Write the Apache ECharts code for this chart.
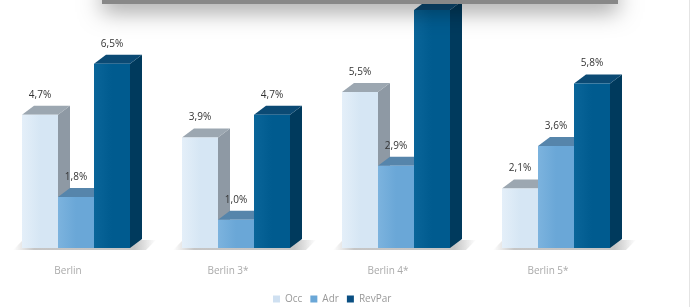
<!DOCTYPE html>
<html>
<head>
<meta charset="utf-8">
<script src="https://cdn.jsdelivr.net/npm/echarts@6/dist/echarts.min.js"></script>
<style>
  html, body { margin: 0; padding: 0; background: #fff; }
  #chart { width: 696px; height: 307px; }
</style>
</head>
<body>
<div id="chart"></div>
<script>
// data
const categories = ['Berlin', 'Berlin 3*', 'Berlin 4*', 'Berlin 5*']
const occ = [4.7, 3.9, 5.5, 2.1]
const adr = [1.8, 1.0, 2.9, 3.6]
const revPar = [6.5, 4.7, 8.4, 5.8]

// front, top, side colours per series
const faces = [
  { front: '#d6e6f4', light: '#e4eff9', top: '#9ca7b1', side: '#8e99a4' },
  { front: '#6aa7d7', light: '#7cb3de', top: '#5685ab', side: '#4b7899' },
  { front: '#005b8f', light: '#0a6599', top: '#0b4a74', side: '#003a5d' },
]
const BW = 36   // bar width
const DX = 12   // depth x
const DY = 9    // depth y
const offsets = [-58, -22, 14]

function fmt(v) {
  return v.toFixed(1).replace('.', ',') + '%'
}

function renderItem(params, api) {
  const s = params.seriesIndex
  const c = faces[s]
  const cat = api.value(0)
  const val = api.value(1)
  const base = api.coord([cat, 0])
  const top = api.coord([cat, val])
  const x0 = base[0] + offsets[s]
  const x1 = x0 + BW
  const yb = base[1]
  const yt = top[1]
  const children = []
  if (s === 0) {
    // floor shadow under the group
    const cx = base[0] - 4
    children.push({
      type: 'polygon',
      z2: 0,
      shape: { points: [[cx - 63, yb + 2], [cx + 70, yb + 2], [cx + 80, yb - 8], [cx - 53, yb - 8]] },
      style: {
        fill: new echarts.graphic.LinearGradient(0, 0, 1, 0, [
          { offset: 0, color: 'rgba(150,150,150,0)' },
          { offset: 0.15, color: 'rgba(150,150,150,0.55)' },
          { offset: 0.85, color: 'rgba(150,150,150,0.55)' },
          { offset: 1, color: 'rgba(150,150,150,0)' },
        ]),
      },
    })
  }
  // side face
  children.push({
    type: 'polygon',
    z2: 1,
    shape: { points: [[x1, yt], [x1 + DX, yt - DY], [x1 + DX, yb - DY], [x1, yb]] },
    style: { fill: c.side },
  })
  // top face
  children.push({
    type: 'polygon',
    z2: 1,
    shape: { points: [[x0, yt], [x0 + DX, yt - DY], [x1 + DX, yt - DY], [x1, yt]] },
    style: { fill: c.top },
  })
  // front face
  children.push({
    type: 'rect',
    z2: 2,
    shape: { x: x0, y: yt, width: BW, height: yb - yt },
    style: {
      fill: new echarts.graphic.LinearGradient(0, 0, 1, 0, [
        { offset: 0, color: c.light },
        { offset: 0.5, color: c.front },
        { offset: 1, color: c.front },
      ]),
    },
  })
  // value label
  children.push({
    type: 'text',
    z2: 3,
    style: {
      text: fmt(val),
      x: x0 + BW / 2,
      y: yt - 20,
      textAlign: 'center',
      textVerticalAlign: 'middle',
      fill: '#333',
      font: '10px "Open Sans", sans-serif',
    },
  })
  return { type: 'group', children: children }
}

function toData(arr) {
  return arr.map((v, i) => [i, v])
}

const myChart = echarts.init(document.getElementById('chart'))
const option = {
  animation: false,
  grid: { left: 0, right: 56, top: 0, bottom: 59 },
  legend: {
    data: ['Occ', 'Adr', 'RevPar'],
    top: 289,
    left: 268,
    icon: 'rect',
    itemWidth: 7,
    itemHeight: 7,
    itemGap: 8,
    textStyle: { color: '#999', fontSize: 10, fontFamily: 'Open Sans' },
  },
  xAxis: {
    type: 'category',
    data: categories,
    axisLine: { show: false },
    axisTick: { show: false },
    axisLabel: {
      color: '#aaa',
      fontSize: 10,
      fontFamily: 'Open Sans',
      margin: 18,
      padding: [0, 24, 0, 0],
    },
  },
  yAxis: {
    type: 'value',
    min: 0,
    max: 8.75,
    show: false,
  },
  series: [
    { name: 'Occ', type: 'custom', renderItem: renderItem, data: toData(occ), encode: { x: 0, y: 1 }, itemStyle: { color: '#cfe0f1' } },
    { name: 'Adr', type: 'custom', renderItem: renderItem, data: toData(adr), encode: { x: 0, y: 1 }, itemStyle: { color: '#6aa7d7' } },
    { name: 'RevPar', type: 'custom', renderItem: renderItem, data: toData(revPar), encode: { x: 0, y: 1 }, itemStyle: { color: '#0a4f82' } },
  ],
  graphic: [
    {
      type: 'rect',
      z: 100,
      shape: { x: 102, y: -20, width: 516, height: 24 },
      style: {
        fill: '#888',
        shadowBlur: 22,
        shadowColor: 'rgba(0,0,0,0.35)',
        shadowOffsetY: 8,
      },
    },
    {
      type: 'line',
      z: 100,
      shape: { x1: 689.5, y1: 0, x2: 689.5, y2: 307 },
      style: { stroke: '#e4e4e4', lineWidth: 1 },
    },
  ],
}
myChart.setOption(option)
</script>
</body>
</html>
